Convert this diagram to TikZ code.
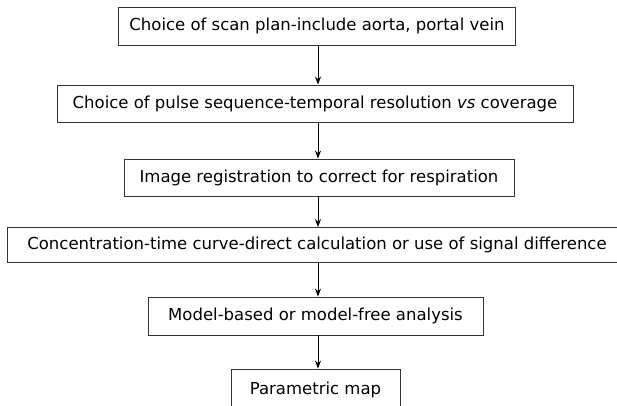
\documentclass[tikz,border=0pt]{standalone}
\usepackage{fontspec}
\setmainfont{DejaVu Sans}
\usetikzlibrary{arrows.meta}
\begin{document}
\begin{tikzpicture}[x=1pt,y=-1pt,
  stepbox/.style={draw=black!80,line width=0.9pt,rectangle,inner sep=0pt,font=\fontsize{16.5}{19}\selectfont,text=black},
  arr/.style={draw=black,line width=0.9pt,-{Stealth[length=8pt,width=6pt]}}]
\useasboundingbox (0,0) rectangle (617,405);
\clip (0,0) rectangle (617,405);
\node[stepbox,minimum width=397pt,minimum height=38pt] (b1) at (317,26) {Choice of scan plan-include aorta, portal vein};
\node[stepbox,minimum width=516pt,minimum height=37pt] (b2) at (315,103.5) {Choice of pulse sequence-temporal resolution \textit{vs} coverage};
\node[stepbox,minimum width=390pt,minimum height=37pt] (b3) at (319,177.5) {Image registration to correct for respiration};
\node[stepbox,minimum width=620pt,minimum height=35pt] (b4) at (317,245) {Concentration-time curve-direct calculation or use of signal difference};
\node[stepbox,minimum width=335pt,minimum height=38pt] (b5) at (315.5,316) {Model-based or model-free analysis};
\node[stepbox,minimum width=169pt,minimum height=40pt,text depth=0pt] (b6) at (315.5,389) {\raisebox{2pt}{Parametric map}};
\draw[arr] (b1.south -| 318,0) -- (318,0 |- b2.north);
\draw[arr] (b2.south -| 318,0) -- (318,0 |- b3.north);
\draw[arr] (b3.south -| 318,0) -- (318,0 |- b4.north);
\draw[arr] (b4.south -| 318,0) -- (318,0 |- b5.north);
\draw[arr] (b5.south -| 318,0) -- (318,0 |- b6.north);
\end{tikzpicture}
\end{document}
